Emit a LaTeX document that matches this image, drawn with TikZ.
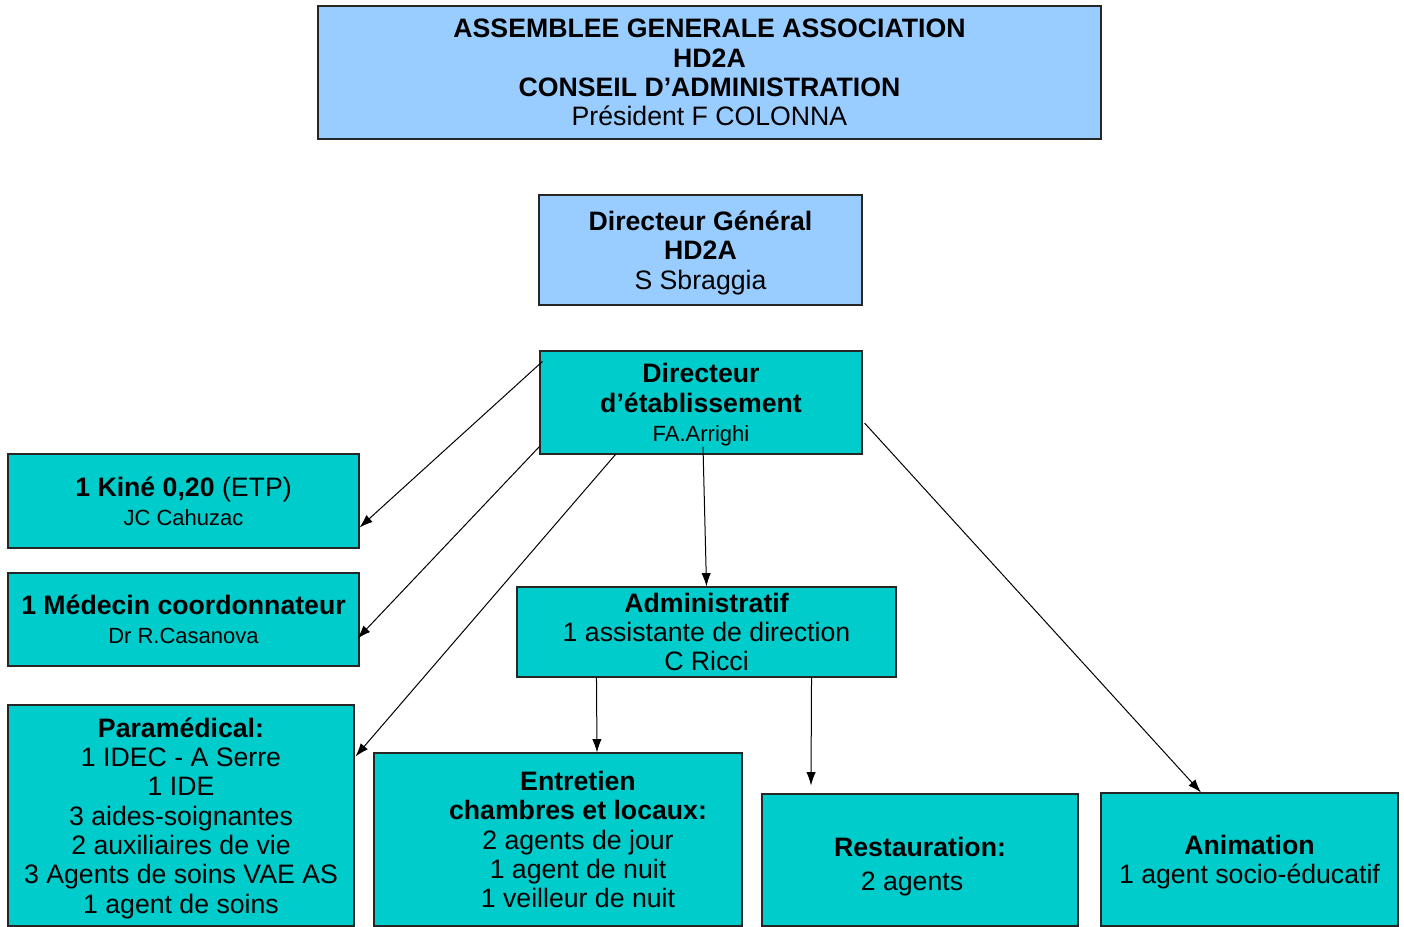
\documentclass[tikz,border=0pt]{standalone}
\usepackage{fontspec}
\setmainfont{Liberation Sans}
\usepackage{tikz}
\usetikzlibrary{arrows.meta,positioning}

\definecolor{hdblue}{HTML}{99CCFF}
\definecolor{hdteal}{HTML}{00CCCC}
\newcommand{\hdbig}{\fontsize{20}{22}\selectfont}
\newcommand{\hdname}{\fontsize{16.5}{20}\selectfont}

\begin{document}
\begin{tikzpicture}[x=0.75pt, y=-0.75pt,
    box/.style={draw=black!85, line width=0.8pt, fill=hdteal, align=center, inner sep=0pt, text depth=0pt, font=\hdbig},
    bluebox/.style={box, fill=hdblue},
    link/.style={-{Latex[length=10pt,width=7pt]}, line width=0.75pt}]
    \useasboundingbox (0,0) rectangle (1404,927);
    % Top of the organisation
    \node[bluebox, minimum width=587.25pt, minimum height=99.75pt] (ag) at (709.5,72.5)
      {\textbf{ASSEMBLEE GENERALE ASSOCIATION}\\ \textbf{HD2A}\\ \textbf{CONSEIL D'ADMINISTRATION}\\ Président F COLONNA};
    \node[bluebox, minimum width=242.25pt, minimum height=82.5pt] (dg) at (700.5,250)
      {\textbf{Directeur Général}\\ \textbf{HD2A}\\ S Sbraggia};
    \node[box, minimum width=241.5pt, minimum height=77.25pt] (dir) at (701,402.5)
      {\textbf{Directeur}\\ \textbf{d'établissement}\\ {\hdname FA.Arrighi}};
    % Services
    \node[box, minimum width=263.25pt, minimum height=70.5pt] (kine) at (183.5,501)
      {\textbf{1 Kiné 0,20} (ETP)\\ {\hdname JC Cahuzac}};
    \node[box, minimum width=263.25pt, minimum height=69.75pt] (med) at (183.5,619.5)
      {\textbf{1 Médecin coordonnateur}\\ {\hdname Dr R.Casanova}};
    \node[box, minimum width=259.5pt, minimum height=165.75pt] (para) at (181,815.5)
      {\textbf{Paramédical:}\\ 1 IDEC - A Serre\\ 1 IDE\\ 3 aides-soignantes\\ 2 auxiliaires de vie\\ 3 Agents de soins VAE AS\\ 1 agent de soins};
    \node[box, minimum width=284.25pt, minimum height=67.5pt] (adm) at (706.5,632)
      {\textbf{Administratif}\\ 1 assistante de direction\\ C Ricci};
    \node[box, minimum width=276pt, minimum height=129.75pt] (ent) at (558,839.5)
      {\hspace*{30pt}\textbf{Entretien}\\ \hspace*{30pt}\textbf{chambres et locaux:}\\ \hspace*{30pt}2 agents de jour\\
       \hspace*{30pt}1 agent de nuit\\ \hspace*{30pt}1 veilleur de nuit};
    \node[box, minimum width=237pt, minimum height=99pt] (rest) at (920,860)
      {\rule{0pt}{20pt}\textbf{Restauration:}\\[3pt] \hspace*{-12pt}2 agents};
    \node[box, minimum width=222.75pt, minimum height=99.75pt] (anim) at (1249.5,859.5)
      {\textbf{Animation}\\ 1 agent socio-éducatif};
    % Links
    \draw[link] ([xshift=2.25pt,yshift=-8.25pt]dir.north west) -- ([yshift=15.75pt]kine.south east);
    \draw[link] ([yshift=6pt]dir.south west) -- ([xshift=-1.5pt,yshift=21pt]med.south east);
    \draw[link] ([xshift=57pt]dir.south west) -- ([xshift=0.75pt,yshift=-39pt]para.north east);
    \draw[link] ([xshift=1.5pt,yshift=6pt]dir.south) -- (adm.north);
    \draw[link] ([xshift=1.5pt,yshift=-15.4pt]dir.east) -- ([xshift=-36.4pt]anim.north);
    \draw[link] ([xshift=60pt]adm.south west) -- ([xshift=29.25pt]ent.north);
    \draw[link] ([xshift=-63.75pt]adm.south east) -- ([xshift=-81.75pt,yshift=6pt]rest.north);
\end{tikzpicture}
\end{document}
